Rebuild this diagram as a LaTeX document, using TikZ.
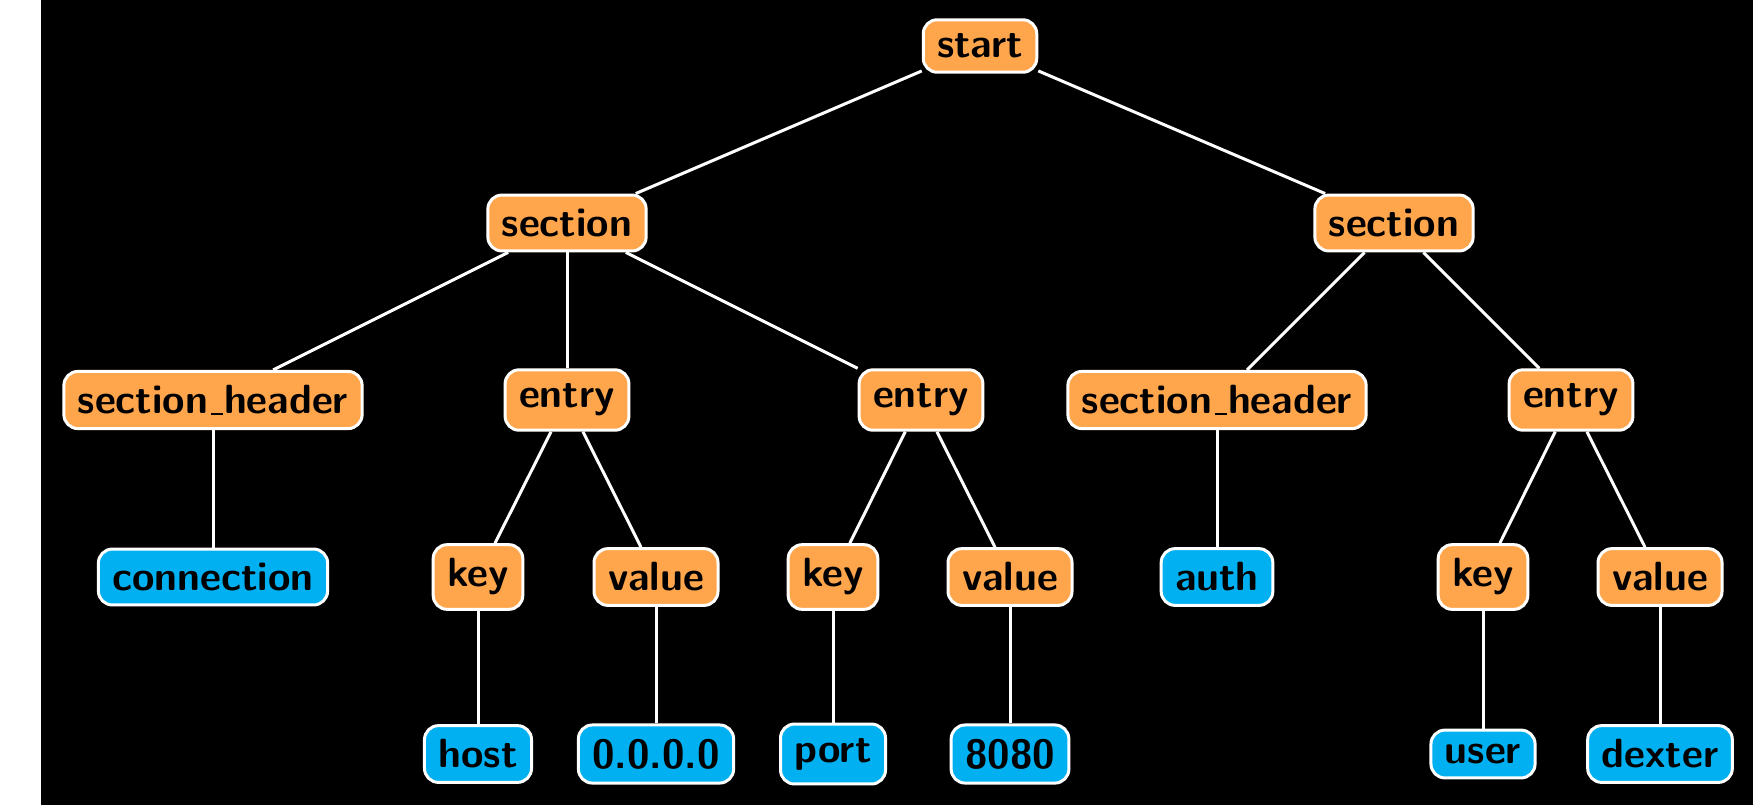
\documentclass[tikz,border=0pt]{standalone}
\definecolor{nodeorange}{RGB}{255,166,77}
\definecolor{nodeblue}{RGB}{0,176,240}
\newcommand{\thinus}{\kern0.06em\rule[-0.2pt]{0.3em}{0.5pt}\kern0.03em}
\begin{document}
\begin{tikzpicture}[x=0.25pt,y=-0.25pt,
  tnode/.style={draw=white, line width=0.75pt, rounded corners=3.5pt, inner sep=3.5pt,
    font={\sffamily\bfseries\fontsize{10.2}{12}\selectfont}, text=black},
  inner/.style={tnode, fill=nodeorange},
  leaf/.style={tnode, fill=nodeblue},
  edge/.style={draw=white, line width=0.75pt}]
\fill[white] (0,0) rectangle (41,805);
\fill[black] (41,0) rectangle (1753,805);
\useasboundingbox (0,0) rectangle (1753,805);
% level 0
\node[inner] (start) at (980,46) {start};
% level 1
\node[inner] (s1) at (567,223) {section};
\node[inner] (s2) at (1394,223) {section};
% level 2
\node[inner] (h1) at (213,400) {section\thinus header};
\node[inner] (e1) at (567,400) {entry};
\node[inner] (e2) at (921,400) {entry};
\node[inner] (h2) at (1217,400) {section\thinus header};
\node[inner] (e3) at (1571,400) {entry};
% level 3
\node[leaf]  (c1) at (213,577) {connection};
\node[inner] (k1) at (478,577) {key};
\node[inner] (v1) at (656,577) {value};
\node[inner] (k2) at (833,577) {key};
\node[inner] (v2) at (1010,577) {value};
\node[leaf]  (a1) at (1217,577) {auth};
\node[inner] (k3) at (1483,577) {key};
\node[inner] (v3) at (1660,577) {value};
% level 4
\node[leaf] (l1) at (478,754) {host};
\node[leaf] (l2) at (656,754) {0.0.0.0};
\node[leaf] (l3) at (833,754) {port};
\node[leaf] (l4) at (1010,754) {8080};
\node[leaf] (l5) at (1483,754) {user};
\node[leaf] (l6) at (1660,754) {dexter};
% edges
\draw[edge] (start) -- (s1);
\draw[edge] (start) -- (s2);
\draw[edge] (s1) -- (h1);
\draw[edge] (s1) -- (e1);
\draw[edge] (s1) -- (e2);
\draw[edge] (s2) -- (h2);
\draw[edge] (s2) -- (e3);
\draw[edge] (h1) -- (c1);
\draw[edge] (e1) -- (k1);
\draw[edge] (e1) -- (v1);
\draw[edge] (e2) -- (k2);
\draw[edge] (e2) -- (v2);
\draw[edge] (h2) -- (a1);
\draw[edge] (e3) -- (k3);
\draw[edge] (e3) -- (v3);
\draw[edge] (k1) -- (l1);
\draw[edge] (v1) -- (l2);
\draw[edge] (k2) -- (l3);
\draw[edge] (v2) -- (l4);
\draw[edge] (k3) -- (l5);
\draw[edge] (v3) -- (l6);
\end{tikzpicture}
\end{document}
